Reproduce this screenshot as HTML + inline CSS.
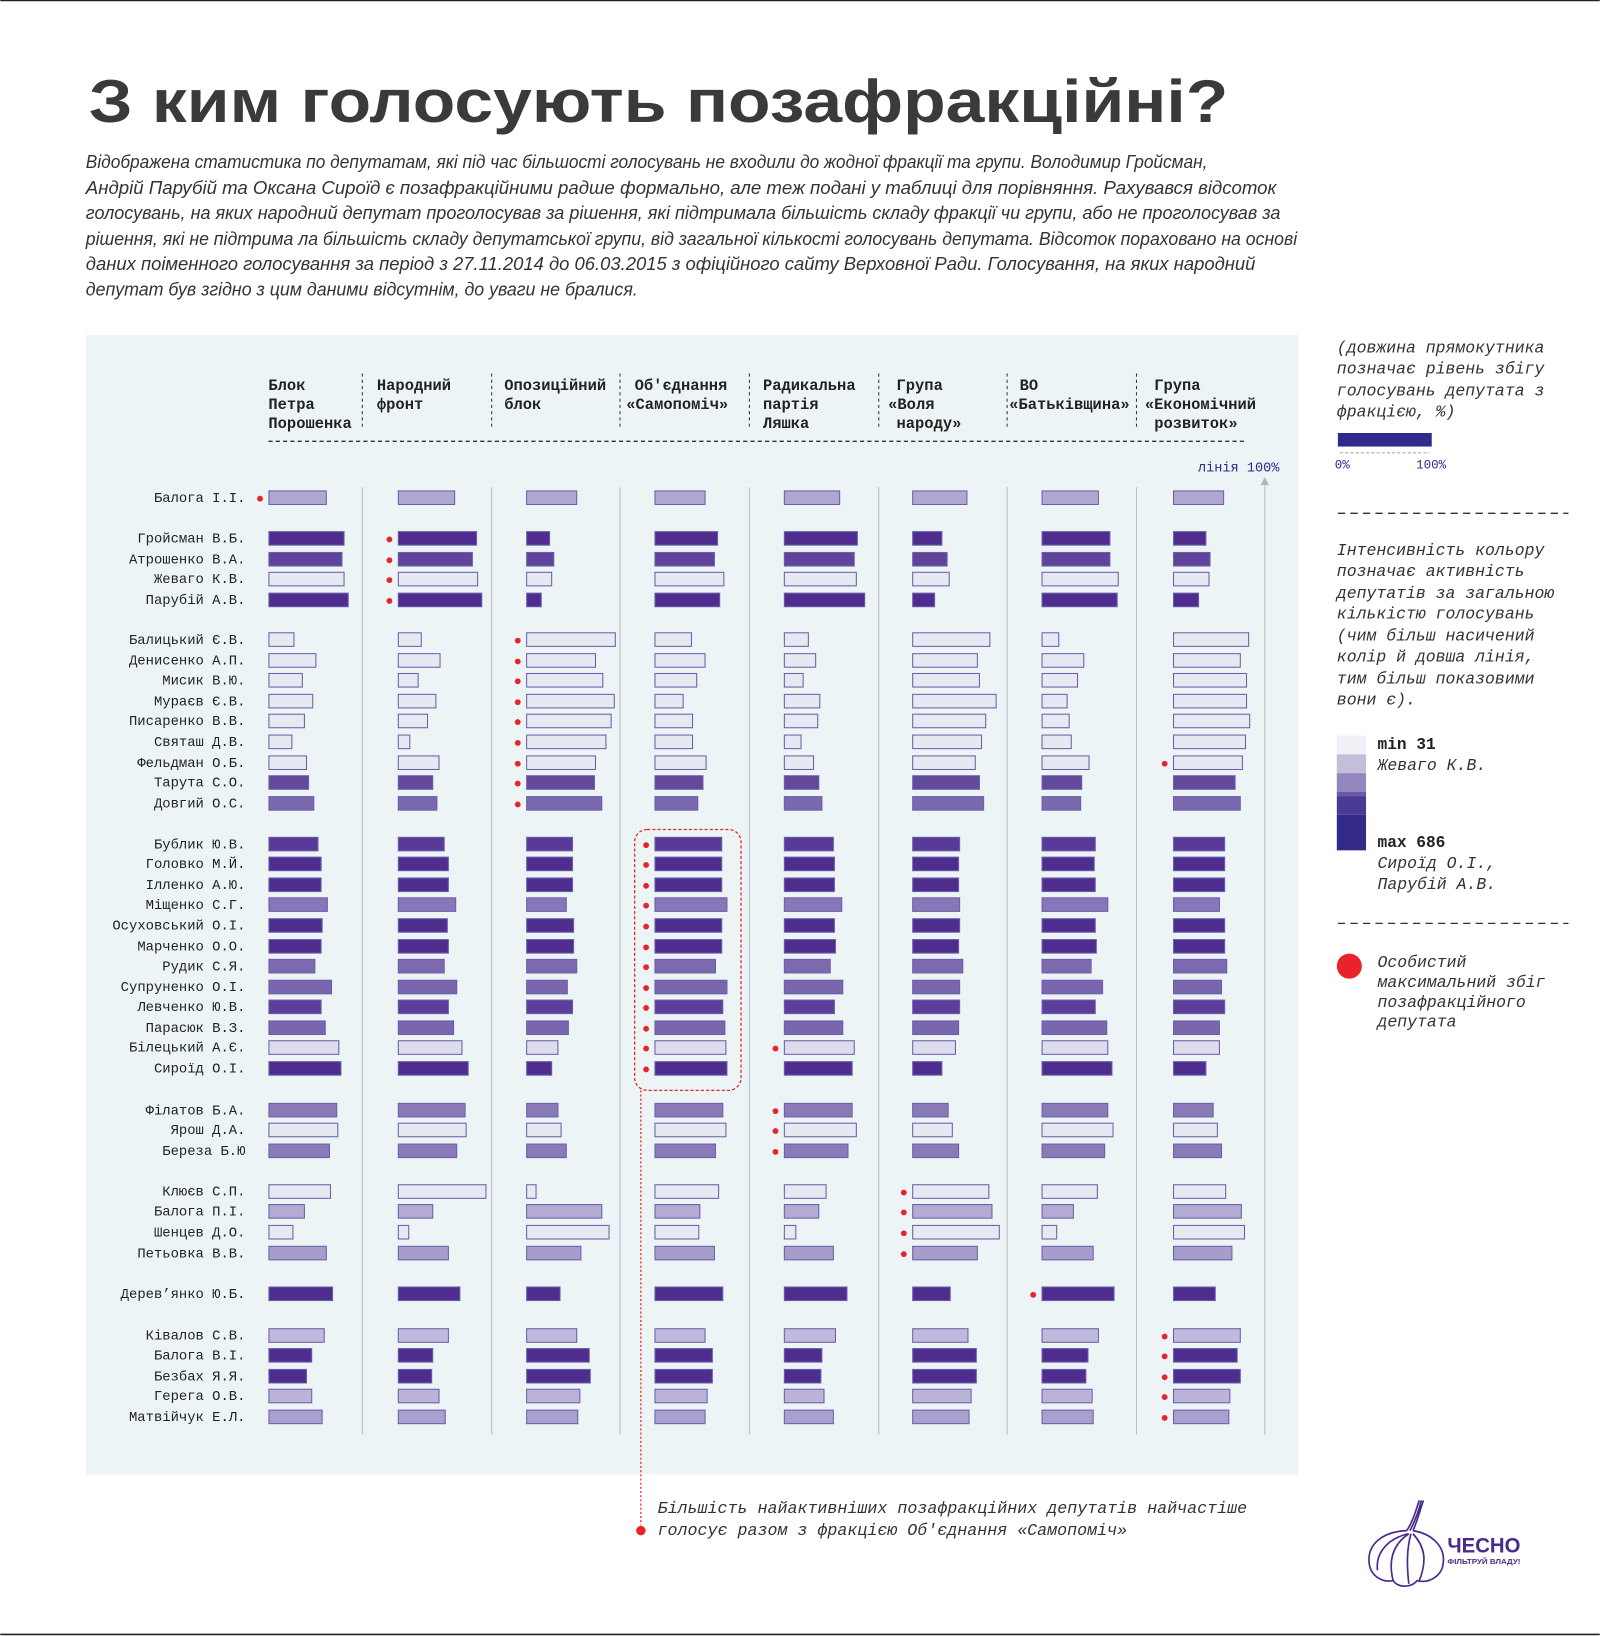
<!DOCTYPE html>
<html><head><meta charset="utf-8">
<style>
html,body{margin:0;padding:0;background:#fff;}
svg{display:block;}
.m{font-family:"Liberation Mono","DejaVu Sans Mono",monospace;}
.h{font-family:"Liberation Mono","DejaVu Sans Mono",monospace;font-weight:bold;font-size:14.8px;fill:#222;}
.n{font-family:"Liberation Mono","DejaVu Sans Mono",monospace;font-size:13.3px;fill:#222;}
.it{font-family:"Liberation Sans",sans-serif;font-style:italic;font-size:18px;fill:#333;}
.li{font-family:"Liberation Mono","DejaVu Sans Mono",monospace;font-style:italic;font-size:15.8px;fill:#333;}
</style></head>
<body>
<svg id="s" width="1600" height="1636" viewBox="0 0 1533 1568" xmlns="http://www.w3.org/2000/svg">
<rect x="0" y="0" width="1533" height="1568" fill="#fff"/>
<line x1="0" y1="0.5" x2="1533" y2="0.5" stroke="#222" stroke-width="1.5"/>
<line x1="0" y1="1566.5" x2="1533" y2="1566.5" stroke="#222" stroke-width="1.5"/>
<text x="85" y="117" font-family="Liberation Sans,sans-serif" font-weight="bold" font-size="58" fill="#3a3a3a" textLength="1092" lengthAdjust="spacingAndGlyphs">З ким голосують позафракційні?</text>
<g class="it">
<text x="82" y="161" textLength="1075" lengthAdjust="spacingAndGlyphs">Відображена статистика по депутатам, які під час більшості голосувань не входили до жодної фракції та групи. Володимир Гройсман,</text>
<text x="82" y="186" textLength="1141" lengthAdjust="spacingAndGlyphs">Андрій Парубій та Оксана Сироїд є позафракційними радше формально, але теж подані у таблиці для порівняння. Рахувався відсоток</text>
<text x="82" y="210" textLength="1145" lengthAdjust="spacingAndGlyphs">голосувань, на яких народний депутат проголосував за рішення, які підтримала більшість складу фракції чи групи, або не проголосував за</text>
<text x="82" y="235" textLength="1161" lengthAdjust="spacingAndGlyphs">рішення, які не підтрима ла більшість складу депутатської групи, від загальної кількості голосувань депутата. Відсоток пораховано на основі</text>
<text x="82" y="259" textLength="1121" lengthAdjust="spacingAndGlyphs">даних поіменного голосування за період з 27.11.2014 до 06.03.2015 з офіційного сайту Верховної Ради. Голосування, на яких народний</text>
<text x="82" y="283" textLength="529" lengthAdjust="spacingAndGlyphs">депутат був згідно з цим даними відсутнім, до уваги не бралися.</text>
</g>
<rect x="82" y="321" width="1162" height="1092" fill="#edf4f6"/>
<g id="g"></g>
<g class="li">
<text x="1281" y="338">(довжина прямокутника</text>
<text x="1281" y="358">позначає рівень збігу</text>
<text x="1281" y="379">голосувань депутата з</text>
<text x="1281" y="399">фракцією, %)</text>
<text x="1281" y="532">Інтенсивність кольору</text>
<text x="1281" y="552">позначає активність</text>
<text x="1281" y="573">депутатів за загальною</text>
<text x="1281" y="593">кількістю голосувань</text>
<text x="1281" y="614">(чим більш насичений</text>
<text x="1281" y="634">колір й довша лінія,</text>
<text x="1281" y="655">тим більш показовими</text>
<text x="1281" y="675">вони є).</text>
<text x="1320" y="738">Жеваго К.В.</text>
<text x="1320" y="832">Сироїд О.І.,</text>
<text x="1320" y="852">Парубій А.В.</text>
<text x="1320" y="927">Особистий</text>
<text x="1320" y="946">максимальний збіг</text>
<text x="1320" y="965">позафракційного</text>
<text x="1320" y="984">депутата</text>
<text x="630" y="1450" textLength="565" lengthAdjust="spacingAndGlyphs">Більшість найактивніших позафракційних депутатів найчастіше</text>
<text x="630" y="1471" textLength="450" lengthAdjust="spacingAndGlyphs">голосує разом з фракцією Об'єднання «Самопоміч»</text>
</g>
<text x="1320" y="718" class="m" font-weight="bold" font-size="15.5" fill="#222">min 31</text>
<text x="1320" y="812" class="m" font-weight="bold" font-size="15.5" fill="#222">max 686</text>
<rect x="1282" y="415" width="90" height="13" fill="#302a8c"/>
<line x1="1284" y1="434" x2="1370" y2="434" stroke="#aaa" stroke-dasharray="3,2"/>
<text x="1279" y="449" class="m" font-size="12" fill="#2c2a8c">0%</text>
<text x="1357" y="449" class="m" font-size="12" fill="#2c2a8c">100%</text>
<line x1="1282" y1="492" x2="1503" y2="492" stroke="#333" stroke-dasharray="7,5" stroke-width="1.3"/>
<line x1="1282" y1="885" x2="1503" y2="885" stroke="#333" stroke-dasharray="7,5" stroke-width="1.3"/>
<rect x="1281" y="705" width="28" height="18" fill="#f2f0f7"/>
<rect x="1281" y="723" width="28" height="18" fill="#c4bddc"/>
<rect x="1281" y="741" width="28" height="18" fill="#9586c0"/>
<rect x="1281" y="759" width="28" height="4" fill="#6b5aa6"/>
<rect x="1281" y="763" width="28" height="18" fill="#4a3a94"/>
<rect x="1281" y="781" width="28" height="34" fill="#332a88"/>
<circle cx="1293" cy="926" r="12" fill="#e8232b"/>
<rect x="608" y="795" width="102" height="250" rx="12" fill="none" stroke="#e8232b" stroke-dasharray="3,2" stroke-width="1.2"/>
<line x1="614" y1="1045" x2="614" y2="1462" stroke="#e8232b" stroke-dasharray="2,2" stroke-width="1.2"/>
<circle cx="614" cy="1467" r="4.5" fill="#e8232b"/>
<g fill="none" stroke="#4a2a8a" stroke-width="1.6">
<path d="M1348 1467 C1325 1468 1310 1480 1312 1498 C1313 1510 1324 1517 1335 1515 C1340 1522 1352 1522 1358 1515 C1370 1518 1382 1510 1383 1498 C1385 1482 1372 1470 1354 1467"/>
<path d="M1348 1467 C1354 1458 1356 1450 1360 1438 M1351 1467 C1356 1458 1359 1450 1362 1438 M1354 1467 C1358 1458 1360 1450 1364 1438"/>
<path d="M1350 1470 C1335 1480 1330 1495 1335 1515 M1352 1470 C1348 1485 1348 1500 1350 1518 M1354 1470 C1365 1482 1368 1495 1360 1515 M1349 1470 C1330 1475 1318 1488 1320 1505"/>
</g>
<text x="1387" y="1488" font-family="Liberation Sans,sans-serif" font-weight="bold" font-size="20" fill="#4a2a8a" textLength="70" lengthAdjust="spacingAndGlyphs">ЧЕСНО</text>
<text x="1387" y="1499" font-family="Liberation Sans,sans-serif" font-weight="bold" font-size="7" fill="#4a2a8a" textLength="70" lengthAdjust="spacingAndGlyphs">ФІЛЬТРУЙ ВЛАДУ!</text>
</svg>
<script>
var NS="http://www.w3.org/2000/svg",g=document.getElementById("g");
function el(t,a,txt){var e=document.createElementNS(NS,t);for(var k in a)e.setAttribute(k,a[k]);if(txt)e.textContent=txt;g.appendChild(e);return e;}
var colX=[257,381,504,627,751,874,998,1124],sep=[347,471,594,718,842,965,1089];
var H=[[257,374,"Блок"],[257,392,"Петра"],[257,410,"Порошенка"],[361,374,"Народний"],[361,392,"фронт"],
[483,374,"Опозиційний"],[483,392,"блок"],[608,374,"Об'єднання"],[600,392,"«Самопоміч»"],
[731,374,"Радикальна"],[731,392,"партія"],[731,410,"Ляшка"],[859,374,"Група"],[851,392,"«Воля"],[859,410,"народу»"],
[977,374,"ВО"],[967,392,"«Батьківщина»"],[1106,374,"Група"],[1097,392,"«Економічний"],[1106,410,"розвиток»"]];
H.forEach(function(h){el("text",{x:h[0],y:h[1],"class":"h"},h[2]);});
sep.forEach(function(x){el("line",{x1:x,y1:358,x2:x,y2:412,stroke:"#333","stroke-dasharray":"3,3"});
el("line",{x1:x,y1:467,x2:x,y2:1375,stroke:"#b8bcc4","stroke-width":1});});
el("line",{x1:257,y1:423,x2:1195,y2:423,stroke:"#333","stroke-dasharray":"4,3","stroke-width":1.3});
el("line",{x1:1212,y1:462,x2:1212,y2:1375,stroke:"#b8bcc4"});
el("path",{d:"M1208 465 L1212 457 L1216 465 Z",fill:"#b0b4bc"});
el("text",{x:1148,y:452,"class":"m","font-size":"13",fill:"#2c2a8c"},"лінія 100%");
var D="#4f2d8f",M="#5f449a",L="#e6e9f2",P="#b0a8d0";
var R=[
["Балога І.І.",477,P,[55,54,48,48,53,52,54,48],[0]],
["Гройсман В.Б.",516,D,[72,75,22,60,70,28,65,31],[1]],
["Атрошенко В.А.",536,M,[70,71,26,57,67,33,65,35],[1]],
["Жеваго К.В.",555,L,[72,76,24,66,69,35,73,34],[1]],
["Парубій А.В.",575,D,[76,80,14,62,77,21,72,24],[1]],
["Балицький Є.В.",613,L,[24,22,85,35,23,74,16,72],[2]],
["Денисенко А.П.",633,L,[45,40,66,48,30,62,40,64],[2]],
["Мисик В.Ю.",652,L,[32,19,73,40,18,64,34,70],[2]],
["Мураєв Є.В.",672,L,[42,36,84,27,34,80,24,70],[2]],
["Писаренко В.В.",691,L,[34,28,81,36,32,70,26,73],[2]],
["Святаш Д.В.",711,L,[22,11,76,36,16,66,28,69],[2]],
["Фельдман О.Б.",731,L,[36,39,66,49,28,60,45,66],[2,7]],
["Тарута С.О.",750,"#63499b",[38,33,65,46,33,64,38,59],[2]],
["Довгий О.С.",770,"#7b68ad",[43,37,72,41,36,68,37,64],[2]],
["Бублик Ю.В.",809,"#5a3a98",[47,44,44,64,47,45,51,49],[3]],
["Головко М.Й.",828,D,[50,48,44,64,48,44,50,49],[3]],
["Ілленко А.Ю.",848,D,[50,48,44,64,48,44,51,49],[3]],
["Міщенко С.Г.",867,"#8877b8",[56,55,38,69,55,45,63,44],[3]],
["Осуховський О.І.",887,D,[51,47,45,64,48,45,51,49],[3]],
["Марченко О.О.",907,D,[50,48,45,64,49,44,52,49],[3]],
["Рудик С.Я.",926,"#7d69b0",[44,44,48,58,44,48,47,51],[3]],
["Супруненко О.І.",946,"#7a65ae",[60,56,39,69,56,45,58,46],[3]],
["Левченко Ю.В.",965,"#5c3d99",[50,48,44,65,48,45,51,49],[3]],
["Парасюк В.З.",985,"#7a66ae",[54,53,40,67,56,44,62,44],[3]],
["Білецький А.Є.",1004,"#dcdcec",[67,61,30,68,67,41,63,44],[3,4]],
["Сироїд О.І.",1024,D,[69,67,24,69,65,28,67,31],[3]],
["Філатов Б.А.",1064,"#8a7ab8",[65,64,30,65,65,34,63,38],[4]],
["Ярош Д.А.",1083,L,[66,65,33,68,69,38,68,42],[4]],
["Береза Б.Ю",1103,"#8a7ab8",[58,56,38,58,61,44,60,46],[4]],
["Клюєв С.П.",1142,L,[59,84,9,61,40,73,53,50],[5]],
["Балога П.І.",1161,"#b3abd3",[34,33,72,43,33,76,30,65],[5]],
["Шенцев Д.О.",1181,L,[23,10,79,42,11,83,14,68],[5]],
["Петьовка В.В.",1201,"#a79dcc",[55,48,52,57,47,62,49,56],[5]],
["Дерев’янко Ю.Б.",1240,D,[61,59,32,65,60,36,69,40],[6]],
["Ківалов С.В.",1280,"#c0badc",[53,48,48,48,49,53,54,64],[7]],
["Балога В.І.",1299,D,[41,33,60,55,36,61,44,61],[7]],
["Безбах Я.Я.",1319,D,[36,32,61,55,35,61,42,64],[7]],
["Герега О.В.",1338,"#bbb4d8",[41,39,51,50,38,56,48,54],[7]],
["Матвійчук Е.Л.",1358,"#aaa0cf",[51,45,49,48,47,54,49,53],[7]]];
R.forEach(function(r){
 el("text",{x:235,y:r[1]+4,"class":"n","text-anchor":"end"},r[0]);
 r[3].forEach(function(w,i){el("rect",{x:colX[i]+0.5,y:r[1]-6.5,width:w,height:13,fill:r[2],stroke:"#6a5fa8","stroke-width":1});});
 r[4].forEach(function(i){el("circle",{cx:colX[i]-8,cy:r[1]+1,r:2.8,fill:"#e8232b"});});
});
</script>
</body></html>
